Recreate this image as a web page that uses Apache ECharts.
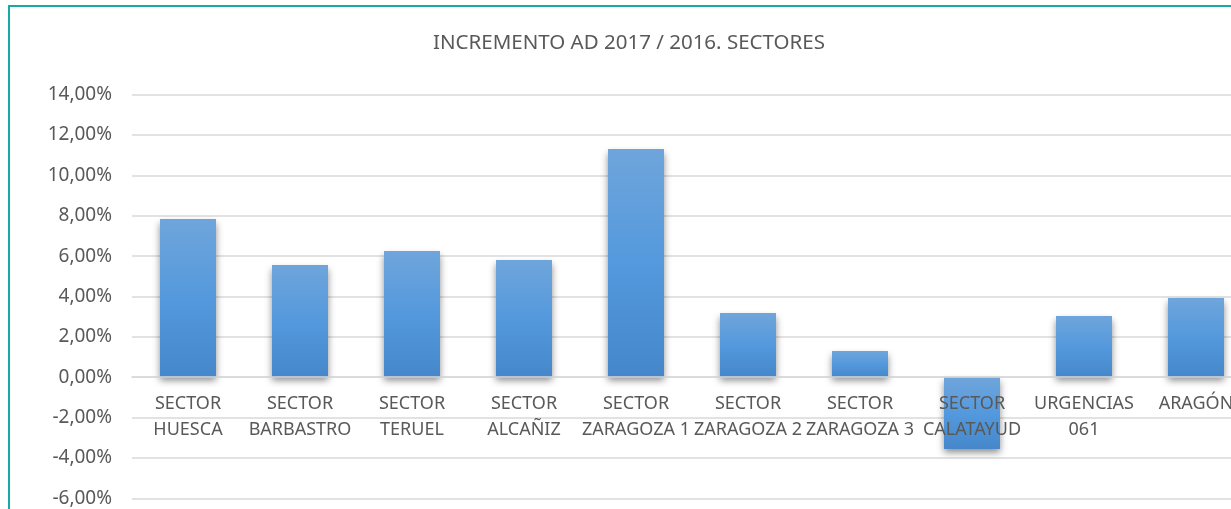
<!DOCTYPE html>
<html>
<head>
<meta charset="utf-8">
<script src="https://cdn.jsdelivr.net/npm/echarts@6/dist/echarts.min.js"></script>
<style>
  html, body { margin: 0; padding: 0; background: #fff; overflow: hidden; width: 1231px; height: 509px; }
  #frame { position: absolute; left: 8px; top: 5px; width: 1300px; height: 600px; border: 2px solid #17a9a3; }
  #chart { position: absolute; left: 0; top: 0; width: 1258px; height: 520px; }
</style>
</head>
<body>
<div id="frame"></div>
<div id="chart"></div>
<script>
var titleText = 'INCREMENTO AD 2017 / 2016. SECTORES';
var categories = [
    'SECTOR\nHUESCA',
    'SECTOR\nBARBASTRO',
    'SECTOR\nTERUEL',
    'SECTOR\nALCAÑIZ',
    'SECTOR\nZARAGOZA 1',
    'SECTOR\nZARAGOZA 2',
    'SECTOR\nZARAGOZA 3',
    'SECTOR\nCALATAYUD',
    'URGENCIAS\n061',
    'ARAGÓN'
];
// incremento en %
var values = [7.84, 5.56, 6.25, 5.81, 11.31, 3.18, 1.30, -3.56, 3.03, 3.92];
var yMin = -6, yMax = 14, yStep = 2;

var font = '"Noto Sans", "Open Sans", sans-serif';
var gridTop = 94.7, gridBottom = 21.7, chartH = 520;
// category axis sits on the zero line (onZero does not kick in here)
var zeroOffset = -(chartH - gridTop - gridBottom) * (0 - yMin) / (yMax - yMin);

var myChart = echarts.init(document.getElementById('chart'));
var option = {
    animation: false,
    title: {
        text: titleText,
        left: 'center',
        top: 28,
        textStyle: { color: '#595959', fontSize: 20.5, fontWeight: 'normal', fontFamily: font }
    },
    grid: { left: 132, right: 6, top: gridTop, bottom: gridBottom, containLabel: false, outerBoundsMode: 'none' },
    xAxis: {
        type: 'category',
        data: categories,
        z: 5,
        offset: zeroOffset,
        axisLine: { onZero: false, lineStyle: { color: '#d9d9d9', width: 1.5 } },
        axisTick: { show: false },
        axisLabel: {
            interval: 0,
            margin: 14,
            color: '#595959',
            fontSize: 18,
            lineHeight: 26,
            fontFamily: font
        }
    },
    yAxis: {
        type: 'value',
        min: yMin,
        max: yMax,
        interval: yStep,
        axisLine: { show: false },
        axisTick: { show: false },
        splitLine: { lineStyle: { color: '#d9d9d9', width: 1.5 } },
        axisLabel: {
            margin: 20,
            color: '#595959',
            fontSize: 19,
            fontFamily: font,
            formatter: function (v) { return v.toFixed(2).replace('.', ',') + '%'; }
        }
    },
    series: [{
        type: 'bar',
        data: values,
        barWidth: '50%',
        itemStyle: {
            color: new echarts.graphic.LinearGradient(0, 0, 0, 1, [
                { offset: 0, color: '#6fa5db' },
                { offset: 0.5, color: '#5499dd' },
                { offset: 1, color: '#4587ca' }
            ]),
            shadowBlur: 7,
            shadowOffsetY: 4,
            shadowColor: 'rgba(0,0,0,0.45)'
        }
    }]
};
myChart.setOption(option);
</script>
</body>
</html>
